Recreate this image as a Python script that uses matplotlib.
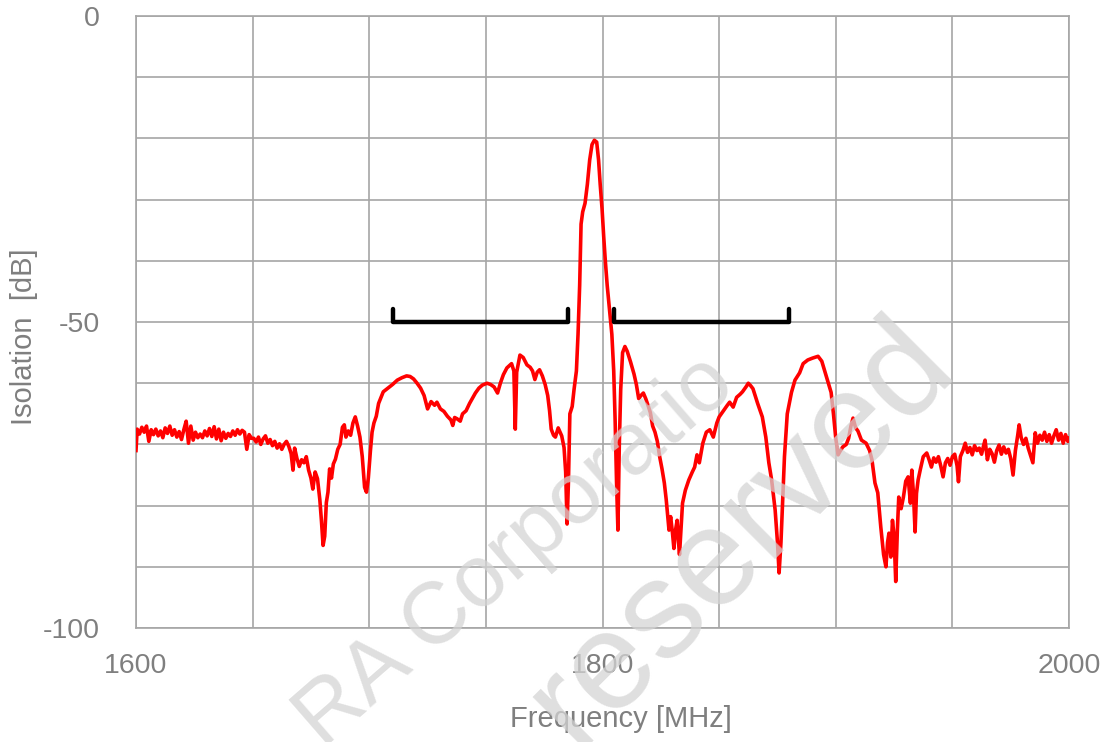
import matplotlib
matplotlib.use('Agg')
import matplotlib.pyplot as plt
from matplotlib.ticker import MultipleLocator

plt.rcParams['font.family'] = ['Liberation Sans', 'DejaVu Sans']
plt.rcParams['axes.unicode_minus'] = False

# Isolation trace
freq_mhz = [
    1600.0, 1600.5, 1601.5, 1602.5, 1603.5, 1604.5, 1605.5, 1606.5, 1607.5, 1608.5,
    1609.5, 1610.5, 1611.5, 1612.5, 1613.5, 1614.5, 1615.5, 1616.5, 1617.5, 1618.5,
    1619.5, 1620.5, 1621.5, 1622.5, 1623.5, 1624.5, 1625.5, 1626.5, 1627.5, 1628.5,
    1629.5, 1630.5, 1631.5, 1632.5, 1633.5, 1634.5, 1635.5, 1636.5, 1637.5, 1638.5,
    1639.5, 1640.5, 1641.5, 1642.5, 1643.5, 1644.5, 1645.5, 1646.5, 1647.5, 1648.5,
    1649.5, 1650.5, 1651.5, 1652.5, 1653.5, 1654.5, 1655.5, 1656.5, 1657.5, 1658.5,
    1659.5, 1660.5, 1661.5, 1662.5, 1663.5, 1664.5, 1665.5, 1666.5, 1667.3, 1668.0,
    1669.0, 1670.0, 1671.0, 1672.0, 1673.0, 1674.0, 1675.0, 1675.8, 1676.8, 1677.8,
    1678.8, 1679.5, 1680.2, 1680.9, 1681.6, 1682.3, 1683.0, 1683.8, 1684.6, 1685.5,
    1686.5, 1687.5, 1688.5, 1689.3, 1690.0, 1691.0, 1692.0, 1693.0, 1694.0, 1695.0,
    1696.0, 1697.0, 1698.0, 1698.8, 1699.6, 1700.5, 1701.2, 1702.0, 1703.0, 1704.0,
    1706.0, 1708.0, 1710.0, 1712.0, 1714.0, 1716.0, 1717.5, 1719.0, 1720.5, 1722.0,
    1723.5, 1725.0, 1726.5, 1728.0, 1729.0, 1730.5, 1732.0, 1733.5, 1735.0, 1735.8,
    1736.6, 1737.6, 1739.0, 1740.0, 1741.5, 1743.0, 1744.5, 1745.5, 1747.0, 1748.5,
    1750.5, 1752.0, 1753.5, 1755.0, 1756.2, 1757.5, 1759.0, 1761.0, 1762.0, 1762.6,
    1763.2, 1764.6, 1766.0, 1767.6, 1769.0, 1770.0, 1771.0, 1772.0, 1773.0, 1774.2,
    1775.4, 1776.5, 1777.3, 1778.0, 1779.0, 1779.8, 1781.0, 1782.5, 1783.5, 1784.2,
    1784.8, 1785.4, 1786.0, 1787.0, 1787.8, 1788.8, 1789.5, 1790.2, 1790.8, 1791.5,
    1792.5, 1793.5, 1794.5, 1795.5, 1796.5, 1797.5, 1798.3, 1799.0, 1799.8, 1800.5,
    1801.2, 1802.0, 1803.0, 1804.0, 1804.8, 1805.4, 1806.0, 1806.6, 1807.2, 1807.8,
    1808.6, 1809.6, 1810.6, 1812.0, 1813.5, 1814.5, 1815.5, 1816.5, 1817.5, 1818.5,
    1819.5, 1820.5, 1821.5, 1822.5, 1823.5, 1824.5, 1825.5, 1826.5, 1827.3, 1828.0,
    1828.5, 1829.2, 1830.0, 1830.6, 1831.3, 1832.0, 1832.6, 1833.0, 1833.6, 1834.3,
    1835.5, 1837.0, 1838.5, 1839.5, 1840.5, 1841.5, 1843.0, 1844.5, 1846.0, 1847.5,
    1849.0, 1850.0, 1852.0, 1853.5, 1854.5, 1856.0, 1857.5, 1859.0, 1860.0, 1861.5,
    1862.5, 1863.5, 1864.5, 1866.5, 1868.5, 1870.0, 1871.3, 1872.5, 1874.0, 1875.0,
    1875.7, 1876.5, 1877.2, 1878.0, 1879.2, 1881.0, 1882.5, 1884.5, 1886.0, 1888.0,
    1890.0, 1892.4, 1894.0, 1895.5, 1897.0, 1898.0, 1899.0, 1900.0, 1901.0, 1902.0,
    1903.0, 1904.5, 1905.5, 1906.5, 1907.4, 1908.5, 1909.5, 1911.0, 1913.0, 1914.5,
    1915.5, 1916.8, 1918.0, 1919.3, 1920.5, 1921.5, 1922.2, 1922.8, 1923.6, 1924.3,
    1925.0, 1925.7, 1926.4, 1927.0, 1928.0, 1929.0, 1930.0, 1931.0, 1932.0, 1932.6,
    1933.3, 1934.0, 1934.6, 1935.3, 1936.3, 1937.5, 1939.0, 1940.0, 1941.0, 1942.0,
    1943.0, 1944.0, 1945.0, 1946.0, 1947.0, 1948.0, 1949.0, 1950.0, 1951.0, 1952.0,
    1952.6, 1953.4, 1954.5, 1955.5, 1956.5, 1957.5, 1958.5, 1959.5, 1960.5, 1961.5,
    1962.5, 1963.5, 1964.0, 1965.0, 1966.0, 1967.0, 1968.0, 1969.0, 1970.0, 1971.0,
    1972.0, 1973.0, 1974.0, 1975.0, 1976.0, 1977.0, 1978.0, 1978.6, 1979.5, 1980.5,
    1981.5, 1982.5, 1983.5, 1984.5, 1985.5, 1986.5, 1987.5, 1988.5, 1989.5, 1990.5,
    1991.5, 1992.5, 1993.5, 1994.5, 1995.5, 1996.5, 1997.5, 1998.5, 1999.5, 2000.0,
]
isolation_db = [
    -71.0, -67.5, -68.3, -67.2, -68.0, -67.0, -69.5, -67.6, -68.4, -67.5,
    -68.6, -67.8, -68.9, -67.3, -68.2, -67.0, -68.5, -67.6, -68.8, -67.9,
    -69.2, -67.6, -66.2, -69.8, -67.0, -69.3, -68.0, -68.9, -68.3, -68.9,
    -67.8, -68.6, -67.4, -68.7, -67.1, -69.1, -67.5, -69.4, -68.0, -69.0,
    -68.2, -68.7, -67.8, -68.5, -67.6, -68.3, -67.7, -68.0, -70.8, -68.4,
    -69.0, -69.0, -69.6, -68.8, -70.0, -69.1, -68.6, -69.8, -69.2, -70.2,
    -69.5, -70.6, -69.9, -70.8, -70.0, -69.5, -70.3, -71.5, -74.2, -70.6,
    -72.3, -73.6, -72.5, -73.0, -72.0, -74.2, -75.5, -77.3, -74.5, -75.6,
    -79.0, -82.5, -86.5, -85.0, -79.5, -77.8, -74.0, -75.5, -73.2, -72.4,
    -70.8, -70.0, -67.2, -66.8, -68.8, -67.8, -68.5, -66.5, -65.5, -67.0,
    -68.8, -72.0, -77.0, -77.8, -75.5, -71.0, -68.0, -66.5, -65.4, -63.3,
    -61.4, -60.8, -60.2, -59.5, -59.1, -58.8, -58.9, -59.3, -60.0, -60.8,
    -62.0, -64.2, -63.0, -63.6, -63.1, -64.2, -64.6, -65.4, -66.0, -66.9,
    -65.6, -65.8, -66.2, -65.0, -64.5, -63.3, -62.3, -61.6, -60.8, -60.3,
    -60.0, -60.2, -60.6, -61.6, -60.0, -58.6, -57.5, -56.8, -58.0, -67.5,
    -58.2, -55.4, -55.8, -57.0, -57.4, -58.0, -59.4, -58.2, -57.8, -58.8,
    -60.2, -62.0, -64.5, -67.5, -68.5, -68.8, -67.3, -68.6, -70.5, -74.5,
    -83.0, -76.0, -65.0, -63.8, -61.0, -58.0, -52.0, -44.0, -34.0, -32.0,
    -30.6, -27.5, -23.5, -21.0, -20.3, -20.6, -23.5, -27.5, -31.5, -36.0,
    -40.0, -44.0, -48.0, -52.0, -58.0, -66.0, -76.0, -84.0, -70.0, -61.0,
    -55.0, -54.0, -54.8, -56.5, -58.5, -60.2, -62.5, -62.0, -61.6, -62.5,
    -63.6, -64.8, -67.0, -68.0, -69.5, -72.0, -74.0, -76.3, -79.0, -82.0,
    -84.0, -81.8, -84.5, -87.0, -84.0, -82.4, -86.0, -88.0, -84.0, -79.6,
    -77.5, -75.8, -74.5, -73.7, -71.7, -73.0, -69.8, -68.0, -67.6, -68.8,
    -66.5, -65.5, -64.4, -63.6, -63.1, -63.9, -62.3, -61.8, -61.4, -60.6,
    -60.0, -60.4, -60.9, -63.3, -65.5, -68.8, -73.0, -75.8, -80.7, -86.0,
    -91.0, -86.0, -79.6, -72.0, -65.0, -61.5, -59.5, -58.3, -56.8, -56.2,
    -55.9, -55.6, -56.4, -58.3, -60.2, -61.5, -65.0, -69.0, -71.7, -71.0,
    -70.4, -70.0, -69.0, -67.0, -65.7, -67.3, -67.8, -69.3, -69.8, -71.0,
    -72.5, -76.3, -77.9, -83.5, -88.0, -90.0, -86.0, -84.5, -88.4, -82.4,
    -85.0, -92.4, -84.0, -78.6, -80.5, -78.6, -76.0, -75.3, -79.6, -74.2,
    -78.0, -84.3, -78.0, -75.8, -74.0, -72.0, -71.4, -72.5, -73.7, -72.2,
    -72.9, -72.0, -73.5, -75.3, -73.0, -72.3, -73.4, -72.0, -71.6, -73.5,
    -76.1, -72.0, -71.0, -69.8, -71.3, -70.5, -71.7, -70.2, -71.0, -70.6,
    -71.6, -70.0, -69.3, -72.5, -70.8, -71.5, -72.9, -71.0, -70.1, -71.6,
    -70.4, -71.4, -70.8, -72.3, -75.0, -71.0, -68.5, -66.8, -68.9, -70.0,
    -69.0, -70.6, -71.8, -73.0, -68.1, -69.8, -68.5, -69.3, -68.0, -69.5,
    -68.4, -69.8, -68.6, -67.6, -69.3, -68.2, -69.8, -68.4, -69.5, -69.0,
]

# Tx / Rx pass bands marked with brackets
band_edges = [(1710, 1785), (1805, 1880)]
bracket_level = -50
bracket_tip = 2.2

x_ticks = [1600, 1800, 2000]
y_ticks = [-100, -50, 0]

fig = plt.figure(figsize=(11.13, 7.42), dpi=100)
ax = fig.add_axes([0.1222, 0.1536, 0.8383, 0.8248])
ax.set_facecolor('none')

ax.plot(freq_mhz, isolation_db, color='#ff0000', lw=2.6, zorder=3)

for lo, hi in band_edges:
    ax.plot([lo, lo, hi, hi],
            [bracket_level + bracket_tip, bracket_level, bracket_level, bracket_level + bracket_tip],
            color='black', lw=3.2, solid_joinstyle='round', solid_capstyle='round', zorder=4)

ax.set_xlim(1600, 2000)
ax.set_ylim(-100, 0)
ax.set_xticks(x_ticks)
ax.set_yticks(y_ticks)
ax.xaxis.set_minor_locator(MultipleLocator(50))
ax.yaxis.set_minor_locator(MultipleLocator(10))
ax.grid(True, which='both', color='#a6a6a6', lw=1.2, zorder=1)
ax.set_axisbelow(True)
ax.tick_params(which='both', length=0, labelsize=20.5, labelcolor='#7f7f7f')
ax.tick_params(axis='x', pad=18)
ax.tick_params(axis='y', pad=26)
for sp in ax.spines.values():
    sp.set_color('#a6a6a6')
    sp.set_linewidth(1.2)

ax.set_xlabel('Frequency [MHz]', fontsize=21, color='#7f7f7f')
ax.set_ylabel('Isolation  [dB]', fontsize=21, color='#7f7f7f')
ax.xaxis.set_label_coords(0.52, -0.125)
ax.yaxis.set_label_coords(-0.105, 0.4755)

# faint watermark
fig.text(0.4636, 0.256, 'RA Corporatio', fontsize=63, color='#d4d4d4', alpha=0.75,
         rotation=41, ha='center', va='center', zorder=5)
fig.text(0.666, 0.282, 'reserved', fontsize=100, color='#d4d4d4', alpha=0.75,
         rotation=45, ha='center', va='center', zorder=5)

fig.savefig('out.png', dpi=100)
